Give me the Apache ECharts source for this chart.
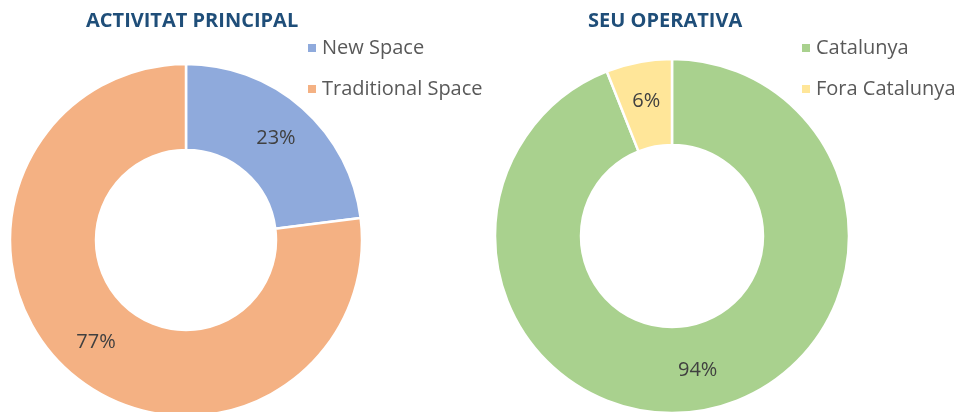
<!DOCTYPE html>
<html>
<head>
<meta charset="utf-8">
<script src="https://cdn.jsdelivr.net/npm/echarts@6/dist/echarts.min.js"></script>
<style>
  html, body { margin: 0; padding: 0; background: #fff; }
  #chart { width: 965px; height: 412px; }
</style>
</head>
<body>
<div id="chart"></div>
<script>
// dades llegides del gràfic original (%)
var activitatNames = ['New Space', 'Traditional Space'];
var activitatValues = [23, 77];
var seuNames = ['Catalunya', 'Fora Catalunya'];
var seuValues = [94, 6];

var font = 'Open Sans';
var chart = echarts.init(document.getElementById('chart'), null, { renderer: 'canvas' });

function toData(names, values) {
  return names.map(function (n, i) { return { name: n, value: values[i] }; });
}

function legendFor(names, left) {
  return {
    data: names,
    orient: 'vertical',
    left: left,
    top: 38,
    padding: 0,
    icon: 'rect',
    itemWidth: 10,
    itemHeight: 10,
    itemGap: 21,
    selectedMode: false,
    textStyle: { fontFamily: font, fontSize: 20, color: '#595959' }
  };
}

function donut(names, values, center, radius, colors) {
  return {
    type: 'pie',
    center: center,
    radius: radius,
    startAngle: 90,
    clockwise: true,
    silent: true,
    color: colors,
    itemStyle: { borderColor: '#fff', borderWidth: 2.5 },
    label: {
      show: true,
      position: 'inside',
      formatter: '{c}%',
      fontFamily: font,
      fontSize: 20,
      color: '#404040'
    },
    labelLine: { show: false },
    data: toData(names, values)
  };
}

var option = {
  backgroundColor: '#fff',
  animation: false,
  title: [
    {
      text: 'ACTIVITAT PRINCIPAL',
      left: 86, top: 11, padding: 0,
      textStyle: { fontFamily: font, fontSize: 20, fontWeight: 'bold', color: '#1F4E79' }
    },
    {
      text: 'SEU OPERATIVA',
      left: 588, top: 11, padding: 0,
      textStyle: { fontFamily: font, fontSize: 20, fontWeight: 'bold', color: '#1F4E79' }
    }
  ],
  legend: [
    legendFor(activitatNames, 306),
    legendFor(seuNames, 800)
  ],
  series: [
    donut(activitatNames, activitatValues, [186, 240], [90, 176], ['#8FAADC', '#F4B183']),
    donut(seuNames, seuValues, [672, 236], [91, 177], ['#A9D18E', '#FFE699'])
  ]
};

chart.setOption(option);
</script>
</body>
</html>
